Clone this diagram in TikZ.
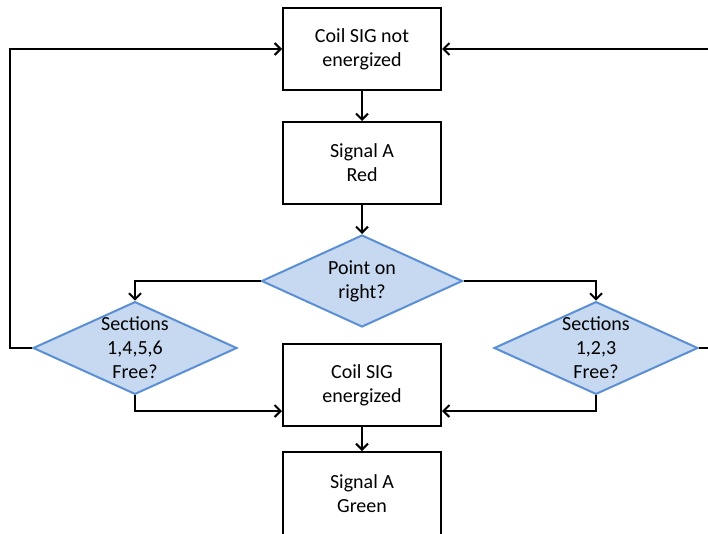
\documentclass[tikz,border=0pt]{standalone}
\usepackage{fontspec}
\setmainfont{Carlito}
\usetikzlibrary{arrows.meta,shapes.geometric}
\definecolor{dfill}{RGB}{198,217,241}
\definecolor{dline}{RGB}{91,143,212}

\begin{document}
\begin{tikzpicture}[x=1pt,y=-1pt,line width=2pt,
  box/.style={rectangle,draw=black,fill=white,minimum width=158pt,minimum height=82pt,align=center,font=\fontsize{20}{24}\selectfont},
  decision/.style={diamond,draw=dline,fill=dfill,aspect=2.2,minimum width=201pt,minimum height=92pt,inner sep=0pt,align=center,font=\fontsize{20}{24}\selectfont},
  flow/.style={-{Straight Barb[length=6pt,width=12pt]}}]
\useasboundingbox (0,0) rectangle (708,533);
\node[box] (coilnot) at (362,49) {Coil SIG not\\energized};
\node[box] (sigred) at (362,163) {Signal A\\Red};
\node[decision] (point) at (362,281) {Point on\\right?};
\node[decision] (s1456) at (135,348) {Sections\\1,4,5,6\\Free?};
\node[decision] (s123) at (596,348) {Sections\\1,2,3\\Free?};
\node[box] (coil) at (362,385) {Coil SIG\\energized};
\node[box,minimum height=84pt] (siggreen) at (362,494) {Signal A\\Green};
% main line
\draw[flow] (coilnot) -- (sigred);
\draw[flow] (sigred) -- (point);
\draw[flow] (coil) -- (siggreen);
% branches
\draw[flow] (point.west) -| (s1456.north);
\draw[flow] (point.east) -| (s123.north);
\draw[flow] (s1456.south) |- ([yshift=-26pt]coil.west);
\draw[flow] (s123.south) |- ([yshift=-26pt]coil.east);
% loops back to the top
\draw[flow] (s1456.west) -- ++(-22,0) |- (coilnot.west);
\draw[flow] (s123.east) -- ++(14,0) |- (coilnot.east);
\end{tikzpicture}
\end{document}
